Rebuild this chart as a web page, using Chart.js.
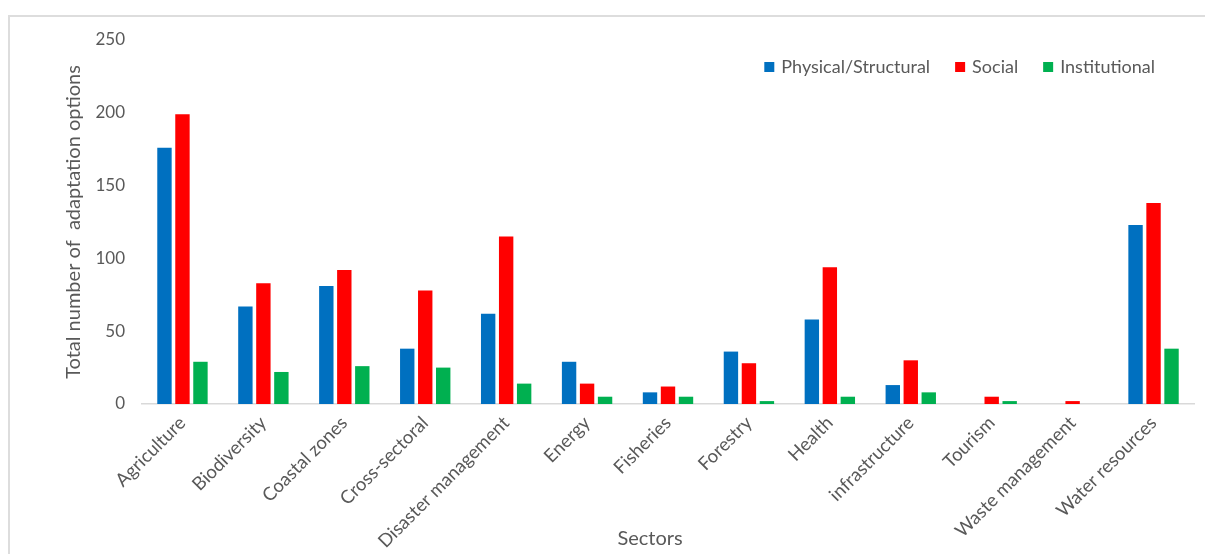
<!DOCTYPE html>
<html>
<head>
<meta charset="utf-8">
<script src="https://cdn.jsdelivr.net/npm/chart.js@4.4.1/dist/chart.umd.min.js"></script>
<style>
  html, body { margin: 0; padding: 0; background: #ffffff; }
  #wrap { position: relative; width: 1205px; height: 554px; overflow: hidden; }
  #frame { position: absolute; left: 8px; top: 15px; right: -10px; bottom: -10px;
           border-left: 2px solid #dddddd; border-top: 2px solid #dddddd; }
  #chartBox { position: absolute; left: 0; top: 0; width: 1205px; height: 554px; }
</style>
</head>
<body>
<div id="wrap">
  <div id="frame"></div>
  <div id="chartBox"><canvas id="c"></canvas></div>
</div>
<script>
const categories = ["Agriculture", "Biodiversity", "Coastal zones", "Cross-sectoral",
  "Disaster management", "Energy", "Fisheries", "Forestry", "Health",
  "infrastructure", "Tourism", "Waste management", "Water resources"];
const physicalStructural = [176, 67, 81, 38, 62, 29, 8, 36, 58, 13, 0, 0, 123];
const social =             [199, 83, 92, 78, 115, 14, 12, 28, 94, 30, 5, 2, 138];
const institutional =      [29, 22, 26, 25, 14, 5, 5, 2, 5, 8, 2, 0, 38];
const yTicks = [0, 50, 100, 150, 200, 250];
const seriesNames = ["Physical/Structural", "Social", "Institutional"];
const xTitle = "Sectors";
const yTitle = "Total number of  adaptation options";

const FONT = "Lato";
const GRAY = "#595959";

const legendPlugin = {
  id: 'insideLegend',
  afterDraw(chart) {
    const ctx = chart.ctx;
    const area = chart.chartArea;
    ctx.save();
    ctx.font = "18px " + FONT;
    ctx.textBaseline = "middle";
    ctx.textAlign = "left";
    const box = 10, textOff = 17, gap = 25;
    const items = chart.data.datasets.map(d => ({ label: d.label, color: d.backgroundColor }));
    let widths = items.map(it => textOff + ctx.measureText(it.label).width);
    let total = widths.reduce((a, b) => a + b, 0) + gap * (items.length - 1);
    let x = area.right - 39 - total;
    const y = area.top + 27;
    items.forEach((it, i) => {
      ctx.fillStyle = it.color;
      ctx.fillRect(x, y - box / 2, box, box);
      ctx.fillStyle = GRAY;
      ctx.fillText(it.label, x + textOff, y);
      x += widths[i] + gap;
    });
    // x-axis title (centred on the whole chart frame, slightly left of plot centre)
    ctx.font = "20px " + FONT;
    ctx.textAlign = "center";
    ctx.fillText(xTitle, (area.left + area.right) / 2 - 18, chart.height - 15);
    ctx.restore();
  }
};

new Chart(document.getElementById('c'), {
  type: 'bar',
  data: {
    labels: categories,
    datasets: [
      { label: seriesNames[0], data: physicalStructural, backgroundColor: "#0070C0" },
      { label: seriesNames[1], data: social, backgroundColor: "#FF0000" },
      { label: seriesNames[2], data: institutional, backgroundColor: "#00B050" }
    ]
  },
  options: {
    responsive: true,
    maintainAspectRatio: false,
    animation: false,
    devicePixelRatio: 1,
    layout: { padding: { top: 40, left: 58, right: 11, bottom: 2 } },
    datasets: { bar: { categoryPercentage: 0.667, barPercentage: 0.8, borderWidth: 0 } },
    plugins: {
      legend: { display: false },
      tooltip: { enabled: false }
    },
    scales: {
      x: {
        grid: { display: false, drawTicks: false },
        border: { display: true, color: "#d9d9d9", width: 1.5 },
        ticks: {
          color: GRAY, font: { family: FONT, size: 18.5 },
          minRotation: 45, maxRotation: 45, padding: 8, autoSkip: false
        },
        title: { display: false },
        afterFit(scale) { scale.height = 554 - 404 - 2; }
      },
      y: {
        min: 0, max: 250,
        afterBuildTicks(scale) { scale.ticks = yTicks.map(v => ({ value: v })); },
        grid: { display: false, drawTicks: false },
        border: { display: false },
        ticks: { color: GRAY, font: { family: FONT, size: 17 }, padding: 17 },
        title: {
          display: true, text: yTitle, color: GRAY,
          font: { family: FONT, size: 20 }, padding: { top: 4, bottom: 4 }
        },
        afterFit(scale) { scale.width = 142 - 58; }
      }
    }
  },
  plugins: [legendPlugin]
});
</script>
</body>
</html>
